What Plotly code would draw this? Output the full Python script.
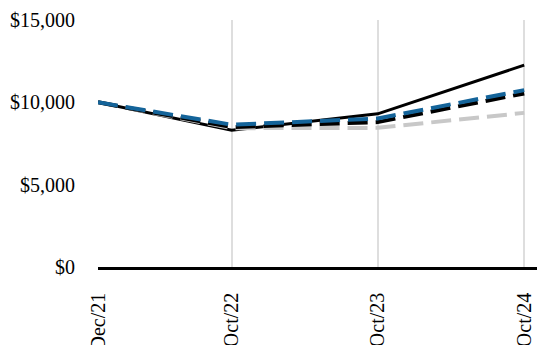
import plotly.graph_objects as go

# Period-end dates and growth of a $10,000 investment
dates = ["2021-12-01", "2022-10-31", "2023-10-31", "2024-10-31"]
tick_labels = ["Dec/21", "Oct/22", "Oct/23", "Oct/24"]
y_ticks = [0, 5000, 10000, 15000]

fund = [10000, 8300, 9300, 12260]
index_gray = [10000, 8430, 8450, 9360]
index_black = [10000, 8500, 8800, 10540]
index_blue = [10000, 8640, 9020, 10740]

font_family = "Liberation Serif, Times New Roman, serif"

fig = go.Figure()
fig.add_trace(go.Scatter(x=dates, y=fund, mode="lines",
                         line=dict(color="#000000", width=3)))
fig.add_trace(go.Scatter(x=dates, y=index_gray, mode="lines",
                         line=dict(color="#c8c8c8", width=4, dash="20px,8px")))
fig.add_trace(go.Scatter(x=dates, y=index_black, mode="lines",
                         line=dict(color="#000000", width=4, dash="20px,8px")))
fig.add_trace(go.Scatter(x=dates, y=index_blue, mode="lines",
                         line=dict(color="#14649a", width=4, dash="20px,8px")))

fig.update_layout(
    width=537, height=345,
    margin=dict(l=98, r=0, t=20, b=78),
    paper_bgcolor="white", plot_bgcolor="white",
    showlegend=False,
    font=dict(family=font_family, size=20, color="#000000"),
)
# axis runs a little past the last period so the baseline reaches the edge
fig.update_xaxes(
    type="date",
    range=[dates[0], "2024-12-02"],
    tickmode="array", tickvals=dates, ticktext=tick_labels,
    tickangle=-90,
    showgrid=True, gridcolor="#dedede", gridwidth=2,
    showline=True, linecolor="#000000", linewidth=2.5,
    ticks="", ticklabelstandoff=15,
    zeroline=False, automargin=False,
)
fig.update_yaxes(
    range=[0, 15000],
    tickmode="array", tickvals=y_ticks,
    ticktext=[f"${v:,}" for v in y_ticks],
    showgrid=False, zeroline=False, showline=False,
    ticks="", ticklabelstandoff=22, automargin=False,
)

fig.write_html("out.html")
